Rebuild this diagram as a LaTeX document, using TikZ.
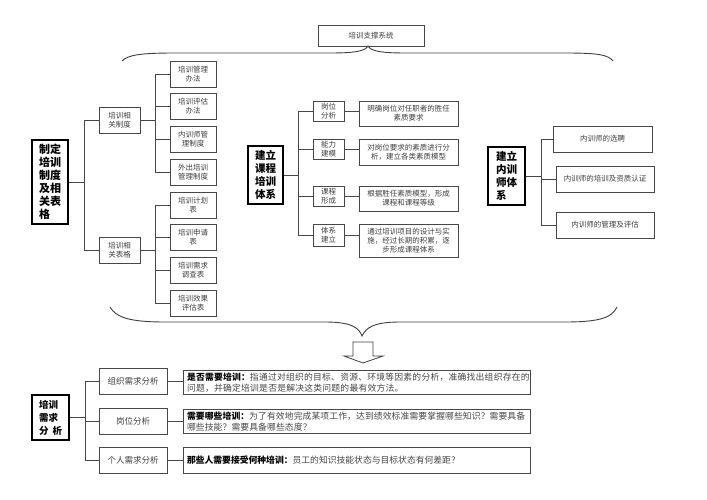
\documentclass[tikz,border=0pt]{standalone}
\usepackage{fontspec}
\setmainfont{Noto Sans CJK SC}
\begin{document}
\begin{tikzpicture}[x=1pt,y=-1pt,
  box/.style={draw=black!72, line width=0.75pt, text=black!75, align=center, inner sep=1pt, font=\fontsize{7.5}{9}\selectfont},
  sz/.style 2 args={minimum width=#1pt, minimum height=#2pt},
  bigbox/.style={draw=black, line width=2.6pt, align=left, inner sep=0pt, font=\fontsize{11}{13}\selectfont\bfseries},
  descbox/.style={draw=black!72, line width=0.75pt, text=black!72, align=left, inner xsep=4pt, inner ysep=1pt, text width=339pt, minimum height=24pt, font=\fontsize{8.8}{11.5}\selectfont},
  link/.style={draw=black!72, line width=0.75pt},
  brace/.style={draw=black!75, line width=0.9pt},
]
\useasboundingbox[fill=white] (0,0) rectangle (707,500);

% top
\node[box, sz={106}{21}] (T) at (371,36) {培训支撑系统};
\draw[brace] (122,61) .. controls (128,55) and (140,53) .. (175,53) -- (330,53)
  .. controls (356,53) and (365,51) .. (368,46) .. controls (371,51) and (380,53) .. (406,53)
  -- (565,53) .. controls (600,53) and (608,55) .. (613,61);

% left group
\node[bigbox, sz={36}{84}] (LM) at (50,182) {制定\\培训\\制度\\及相\\关表\\格};
\node[box, sz={41}{26}] (LA) at (119.5,120) {培训相\\关制度};
\node[box, sz={41}{26}] (LB) at (119.5,250) {培训相\\关表格};
\node[box, sz={46}{26}] (L1) at (193,74) {培训管理\\办法};
\node[box, sz={46}{26}] (L2) at (193,106) {培训评估\\办法};
\node[box, sz={46}{26}] (L3) at (193,139) {内训师管\\理制度};
\node[box, sz={46}{26}] (L4) at (193,172) {外出培训\\管理制度};
\node[box, sz={46}{26}] (L5) at (193,205) {培训计划\\表};
\node[box, sz={46}{26}] (L6) at (193,237) {培训申请\\表};
\node[box, sz={46}{26}] (L7) at (193,270) {培训需求\\调查表};
\node[box, sz={46}{26}] (L8) at (193,303) {培训效果\\评估表};
\foreach \c in {LA,LB} \draw[link] (LM.east) -- ++(15,0) |- (\c.west);
\foreach \c in {L1,L2,L3,L4} \draw[link] (LA.east) -- ++(15,0) |- (\c.west);
\foreach \c in {L5,L6,L7,L8} \draw[link] (LB.east) -- ++(15,0) |- (\c.west);

% middle group
\node[bigbox, sz={35}{58}, font=\fontsize{10.5}{13}\selectfont\bfseries] (MM) at (265.5,175) {建立\\课程\\培训\\体系};
\node[box, sz={31}{20}] (M1) at (328.5,111) {岗位\\分析};
\node[box, sz={31}{20}] (M2) at (328.5,149) {能力\\建模};
\node[box, sz={31}{20}] (M3) at (328.5,196) {课程\\形成};
\node[box, sz={31}{22}] (M4) at (328.5,235) {体系\\建立};
\node[box, sz={99}{25}] (D1) at (408.5,113.5) {明确岗位对任职者的胜任\\素质要求};
\node[box, sz={99}{26}] (D2) at (408.5,152) {对岗位要求的素质进行分\\析，建立各类素质模型};
\node[box, sz={99}{25}] (D3) at (408.5,198.5) {根据胜任素质模型，形成\\课程和课程等级};
\node[box, sz={99}{33}] (D4) at (408.5,240.5) {通过培训项目的设计与实\\施，经过长期的积累，逐\\步形成课程体系};
\foreach \c in {M1,M2,M3,M4} \draw[link] (MM.east) -- ++(14,0) |- (\c.west);
\foreach \a/\b in {M1/D1,M2/D2,M3/D3,M4/D4} \draw[link] (\a.east) -- (\a.east -| \b.west);

% right group
\node[bigbox, sz={37}{58}, font=\fontsize{10.5}{13}\selectfont\bfseries] (RM) at (506.5,176) {建立\\内训\\师体\\系};
\node[box, sz={99}{26}] (R1) at (602.5,139) {内训师的选聘};
\node[box, sz={98}{26}] (R2) at (605,179) {内训师的培训及资质认证};
\node[box, sz={98}{26}] (R3) at (605,225) {内训师的管理及评估};
\foreach \c in {R1,R2,R3} \draw[link] (RM.east) -- ++(15,0) |- (\c.west);

% bottom brace and arrow
\draw[brace] (110,307) .. controls (116,317) and (128,322) .. (165,322) -- (325,322)
  .. controls (352,322) and (359,328) .. (362,336) .. controls (366,328) and (373,322) .. (400,322)
  -- (565,322) .. controls (602,322) and (612,317) .. (617,307);
\draw[draw=black!75, line width=0.8pt, fill=white] (353,342) -- (373,342) -- (373,356) -- (383,356)
  -- (363,363) -- (344,356) -- (353,356) -- cycle;

% bottom group
\node[bigbox, sz={37}{45}, font=\fontsize{9.5}{13}\selectfont\bfseries] (BM) at (50.5,417.5) {培训\\需求\\分\hspace{4pt}析};
\node[box, sz={68}{26}, font=\fontsize{8.5}{10}\selectfont] (B1) at (133,381) {组织需求分析};
\node[box, sz={68}{26}, font=\fontsize{8.5}{10}\selectfont] (B2) at (133,421) {岗位分析};
\node[box, sz={68}{26}, font=\fontsize{8.5}{10}\selectfont] (B3) at (133,460) {个人需求分析};
\node[descbox, font=\fontsize{8.8}{11.5}\selectfont\addfontfeature{LetterSpace=2.6}] (E1) at (356.5,382.5) {{\bfseries\color{black}是否需要培训：}指通过对组织的目标、资源、环境等因素的分析，准确找出组织存在的\\问题，并确定培训是否是解决这类问题的最有效方法。};
\node[descbox, font=\fontsize{8.8}{11.5}\selectfont\addfontfeature{LetterSpace=1.2}] (E2) at (356.5,421.5) {{\bfseries\color{black}需要哪些培训：}为了有效地完成某项工作，达到绩效标准需要掌握哪些知识？需要具备\\哪些技能？需要具备哪些态度？};
\node[descbox, minimum height=26pt] (E3) at (356.5,460) {{\bfseries\color{black}那些人需要接受何种培训：}员工的知识技能状态与目标状态有何差距？};
\foreach \c in {B1,B2,B3} \draw[link] (BM.east) -- ++(15,0) |- (\c.west);
\foreach \a/\b in {B1/E1,B2/E2,B3/E3} \draw[link] (\a.east) -- (\a.east -| \b.west);
\end{tikzpicture}
\end{document}
